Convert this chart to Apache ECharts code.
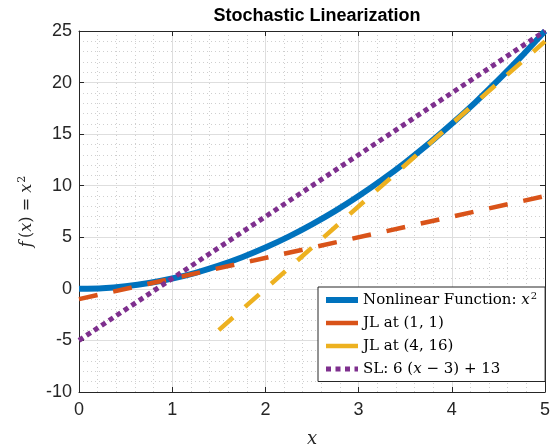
<!DOCTYPE html>
<html>
<head>
<meta charset="utf-8">
<script src="https://cdn.jsdelivr.net/npm/echarts@6/dist/echarts.min.js"></script>
<style>
  html, body { margin: 0; padding: 0; background: #fff; }
  #chart { width: 554px; height: 444px; }
</style>
</head>
<body>
<div id="chart"></div>
<script>
// values
const curveX = [0, 0.25, 0.5, 0.75, 1, 1.25, 1.5, 1.75, 2, 2.25, 2.5, 2.75, 3, 3.25, 3.5, 3.75, 4, 4.25, 4.5, 4.75, 5]
const curveY = [0, 0.06, 0.25, 0.56, 1, 1.56, 2.25, 3.06, 4, 5.06, 6.25, 7.56, 9, 10.56, 12.25, 14.06, 16, 18.06, 20.25, 22.56, 25]
const jl1X = [0, 5]
const jl1Y = [-1, 9]
const jl2X = [1.5, 5]
const jl2Y = [-4, 24]
const slX = [0, 5]
const slY = [-5, 25]
const seriesNames = ['Nonlinear Function: x^2', 'JL at (1, 1)', 'JL at (4, 16)', 'SL: 6(x-3)+13']

function pairs(xs, ys) {
  return xs.map((x, i) => [x, ys[i]])
}

const axisColor = '#262626'
const tickFont = 'Liberation Sans, Arial, sans-serif'
const serif = 'DejaVu Serif, serif'

const chart = echarts.init(document.getElementById('chart'))
const option = {
  animation: false,
  backgroundColor: '#fff',
  title: {
    text: 'Stochastic Linearization',
    left: 312,
    textAlign: 'center',
    top: 2,
    textStyle: { fontFamily: tickFont, fontWeight: 'bold', fontSize: 18, color: '#000' }
  },
  grid: { left: 79, right: 9, top: 31, bottom: 52, containLabel: false, outerBoundsMode: 'none' },
  legend: {
    orient: 'vertical',
    left: 318,
    top: 287,
    padding: [4, 8, 5, 5],
    itemWidth: 32,
    itemHeight: 14,
    itemGap: 8,
    backgroundColor: '#fff',
    borderColor: '#262626',
    borderWidth: 1,
    borderRadius: 0,
    itemStyle: { opacity: 0 },
    data: [
      { name: seriesNames[0], lineStyle: { width: 6 } },
      { name: seriesNames[1], lineStyle: { type: 'solid', width: 4.5 } },
      { name: seriesNames[2], lineStyle: { type: 'solid', width: 4.5 } },
      { name: seriesNames[3], lineStyle: { width: 5, type: [5, 4.5] } }
    ],
    formatter: function (name) {
      if (name === seriesNames[0]) return '{r|Nonlinear Function: }{i|x}{s|2}'
      if (name === seriesNames[1]) return '{r|JL at (1, 1)}'
      if (name === seriesNames[2]) return '{r|JL at (4, 16)}'
      return '{r|SL: 6 (}{i|x}{r| − 3) + 13}'
    },
    textStyle: {
      color: '#000',
      rich: {
        r: { fontFamily: serif, fontSize: 15, color: '#000' },
        i: { fontFamily: serif, fontSize: 15, fontStyle: 'italic', color: '#000' },
        s: { fontFamily: serif, fontSize: 10, verticalAlign: 'top', padding: [0, 0, 8, 1], color: '#000' }
      }
    }
  },
  xAxis: [
    {
      type: 'value',
      min: 0,
      max: 5,
      interval: 1,
      name: 'x',
      nameLocation: 'middle',
      nameGap: 38,
      nameTextStyle: { fontFamily: serif, fontStyle: 'italic', fontSize: 18, color: axisColor },
      axisLine: { show: true, onZero: false, lineStyle: { color: axisColor, width: 1 } },
      axisTick: { show: true, inside: true, length: 5, lineStyle: { color: axisColor } },
      axisLabel: { margin: 9, fontFamily: tickFont, fontSize: 18, color: axisColor },
      splitLine: { show: true, lineStyle: { color: '#dedede', width: 1 } },
      minorTick: { show: false, splitNumber: 5 },
      minorSplitLine: { show: true, lineStyle: { color: '#cfcfcf', type: [1, 3], width: 1 } }
    },
    {
      type: 'value',
      position: 'top',
      min: 0,
      max: 5,
      interval: 1,
      axisLine: { show: true, onZero: false, lineStyle: { color: axisColor, width: 1 } },
      axisTick: { show: true, inside: true, length: 5, lineStyle: { color: axisColor } },
      axisLabel: { show: false },
      splitLine: { show: false }
    }
  ],
  yAxis: [
    {
      type: 'value',
      min: -10,
      max: 25,
      interval: 5,
      name: '{i|f} {r|(}{i|x}{r|) = }{i|x}{s|2}',
      nameLocation: 'middle',
      nameGap: 38,
      nameRotate: 90,
      nameTextStyle: {
        rich: {
          r: { fontFamily: serif, fontSize: 16, color: axisColor },
          i: { fontFamily: serif, fontSize: 16, fontStyle: 'italic', color: axisColor },
          s: { fontFamily: serif, fontSize: 11, verticalAlign: 'top', padding: [0, 0, 9, 1], color: axisColor }
        }
      },
      axisLine: { show: true, onZero: false, lineStyle: { color: axisColor, width: 1 } },
      axisTick: { show: true, inside: true, length: 5, lineStyle: { color: axisColor } },
      axisLabel: { margin: 7, fontFamily: tickFont, fontSize: 18, color: axisColor },
      splitLine: { show: true, lineStyle: { color: '#dedede', width: 1 } },
      minorTick: { show: false, splitNumber: 5 },
      minorSplitLine: { show: true, lineStyle: { color: '#cfcfcf', type: [1, 3], width: 1 } }
    },
    {
      type: 'value',
      position: 'right',
      min: -10,
      max: 25,
      interval: 5,
      axisLine: { show: true, onZero: false, lineStyle: { color: axisColor, width: 1 } },
      axisTick: { show: true, inside: true, length: 5, lineStyle: { color: axisColor } },
      axisLabel: { show: false },
      splitLine: { show: false }
    }
  ],
  series: [
    {
      name: seriesNames[0],
      type: 'line',
      symbol: 'none',
      smooth: 0.2,
      color: '#0072BD',
      lineStyle: { width: 6, color: '#0072BD' },
      data: pairs(curveX, curveY)
    },
    {
      name: seriesNames[1],
      type: 'line',
      symbol: 'none',
      color: '#D95319',
      lineStyle: { width: 4.5, color: '#D95319', type: [19, 16] },
      data: pairs(jl1X, jl1Y)
    },
    {
      name: seriesNames[2],
      type: 'line',
      symbol: 'none',
      color: '#EDB120',
      lineStyle: { width: 4.5, color: '#EDB120', type: [19, 16] },
      data: pairs(jl2X, jl2Y)
    },
    {
      name: seriesNames[3],
      type: 'line',
      symbol: 'none',
      color: '#7E2F8E',
      lineStyle: { width: 5, color: '#7E2F8E', type: [5, 4] },
      data: pairs(slX, slY)
    }
  ]
}
chart.setOption(option)
window.onresize = function () {
  chart.resize()
}
</script>
</body>
</html>
